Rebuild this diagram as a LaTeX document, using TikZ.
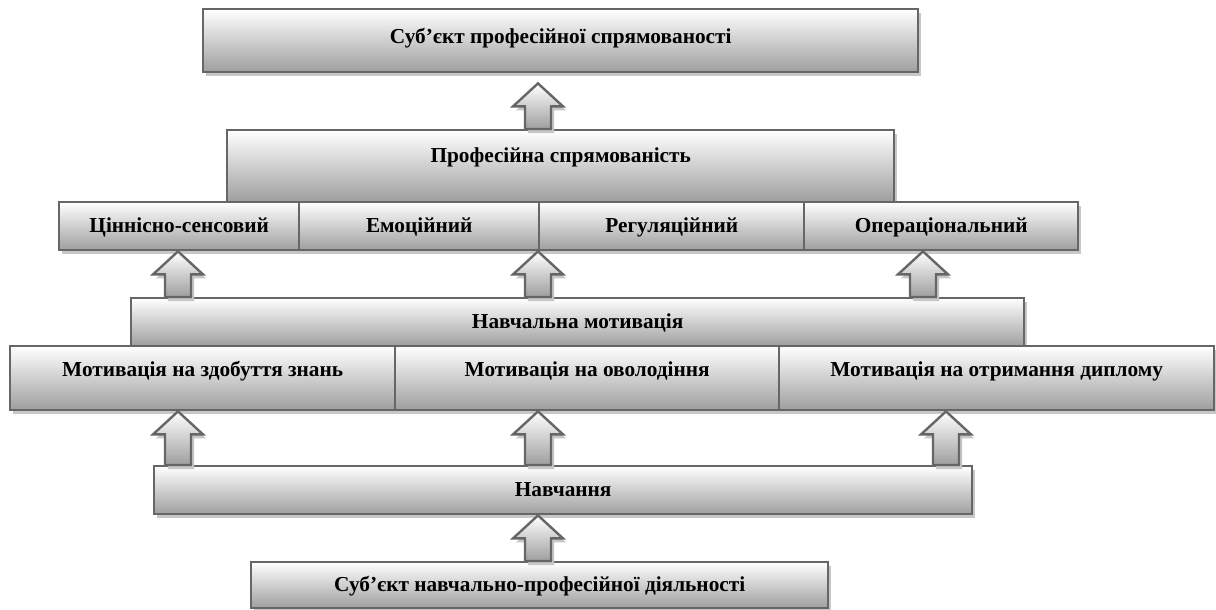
\documentclass[tikz,border=0pt]{standalone}
\usepackage{fontspec}
\setmainfont{Liberation Serif}
\usetikzlibrary{shadows,calc}

\tikzset{
  shade3d/.style={draw=black!60,line width=2.4pt,top color=white,bottom color=black!38,
    drop shadow={shadow xshift=3pt,shadow yshift=-4pt,fill=black!22,opacity=1}},
  blk/.style={shade3d,anchor=north west,inner sep=0pt,text height=17pt,text depth=4pt,
    font=\fontsize{21.3}{24}\selectfont\bfseries},
  uparr/.style={shade3d,line join=miter}
}
% block arrow pointing up: [tip shift]{x}{lower node}{upper node}
\newcommand\upblock[4][0]{%
  \coordinate (ax) at (#2,0);
  \coordinate (ab) at (ax |- #3.north);
  \coordinate (at) at ($(ax |- #4.south)+(0,#1)$);
  \draw[uparr] ($(ab)+(-13,0)$) -- ($(at)+(-13,23)$) -- ($(at)+(-25,23)$) -- (at)
    -- ($(at)+(25,23)$) -- ($(at)+(13,23)$) -- ($(ab)+(13,0)$) -- cycle;}

\begin{document}
\begin{tikzpicture}[x=1pt,y=-1pt]
\useasboundingbox (0,0) rectangle (1216,610);
% top
\node[blk,minimum width=715pt,minimum height=63pt] (subprof) at (202,8) {\raisebox{4pt}{Суб’єкт професійної спрямованості}};
\node[blk,minimum width=667pt,minimum height=72pt] (prof) at (226,129) {\raisebox{10pt}{Професійна спрямованість}};
\node[blk,minimum width=240pt,minimum height=48pt] (tsin) at (58,201) {Ціннісно-сенсовий};
\node[blk,minimum width=240pt,minimum height=48pt] (emo) at (298,201) {Емоційний};
\node[blk,minimum width=265pt,minimum height=48pt] (reg) at (538,201) {Регуляційний};
\node[blk,minimum width=274pt,minimum height=48pt] (oper) at (803,201) {Операціональний};
% middle
\node[blk,minimum width=893pt,minimum height=48pt] (nmot) at (130,297) {Навчальна мотивація};
\node[blk,minimum width=385pt,minimum height=64pt] (mzn) at (9,345) {\raisebox{8pt}{Мотивація на здобуття знань}};
\node[blk,minimum width=384pt,minimum height=64pt] (mov) at (394,345) {\raisebox{8pt}{Мотивація на оволодіння}};
\node[blk,minimum width=435pt,minimum height=64pt] (mdyp) at (778,345) {\raisebox{8pt}{Мотивація на отримання диплому}};
% bottom
\node[blk,minimum width=818pt,minimum height=48pt] (navch) at (153,465) {Навчання};
\node[blk,minimum width=577pt,minimum height=46pt] (subnav) at (250,561) {Суб’єкт навчально-професійної діяльності};
% arrows
\upblock[10]{538}{prof}{subprof}
\upblock{178}{nmot}{tsin}
\upblock{538}{nmot}{emo}
\upblock{923}{nmot}{oper}
\upblock{178}{navch}{mzn}
\upblock{538}{navch}{mov}
\upblock{946}{navch}{mdyp}
\upblock{538}{subnav}{navch}
\end{tikzpicture}
\end{document}
